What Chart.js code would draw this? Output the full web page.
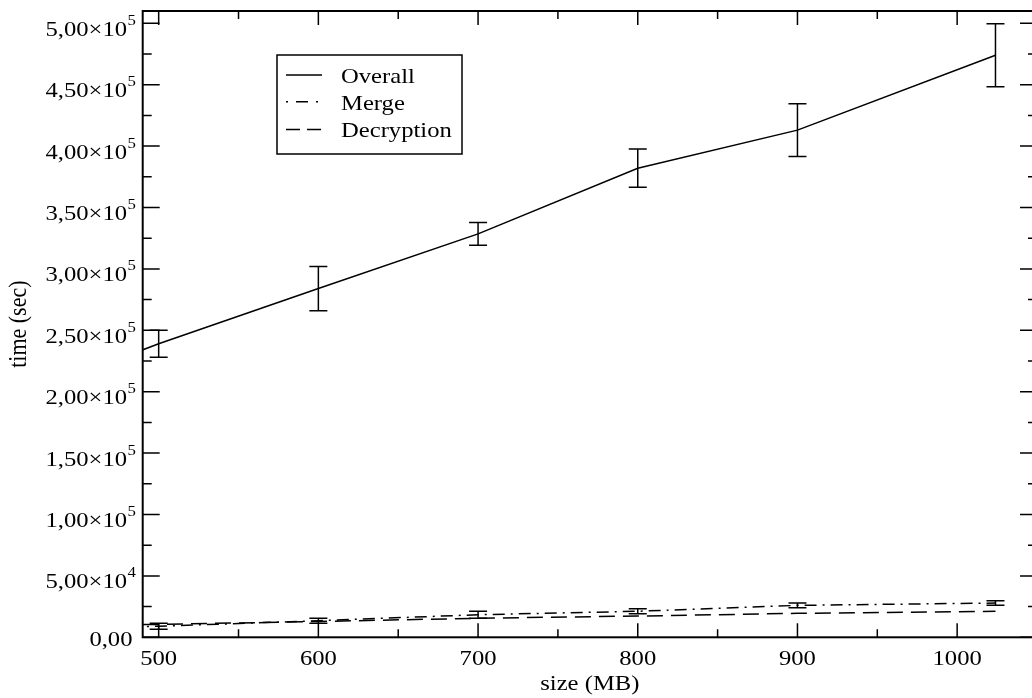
<!DOCTYPE html>
<html>
<head>
<meta charset="utf-8">
<script src="https://cdn.jsdelivr.net/npm/chart.js@4.4.1/dist/chart.umd.min.js"></script>
<style>
  html, body { margin: 0; padding: 0; background: #fff; overflow: hidden; }
  #wrap { width: 1032px; height: 698px; overflow: hidden; }
</style>
</head>
<body>
<div id="wrap"><canvas id="timeChart" width="1045" height="698" style="width:1045px;height:698px"></canvas></div>
<script>
// file sizes (MB) and measured times (sec)
const sizes = [400, 500, 600, 700, 800, 900, 1024];
const overall = [190000, 239000, 284000, 328500, 382000, 413000, 474000];
const overallErr = [10000, 11000, 18000, 9300, 15600, 21500, 25700];
const merge = [6000, 9000, 13500, 18400, 21200, 26000, 27900];
const mergeErr = [2000, 2500, 2000, 2800, 2000, 2000, 1800];
const decryption = [10000, 10500, 12900, 15500, 17300, 19500, 21200];

const xTicks = [500, 600, 700, 800, 900, 1000];
const xMinor = [550, 650, 750, 850, 950, 1050];
const yTicks = [0, 50000, 100000, 150000, 200000, 250000, 300000, 350000, 400000, 450000, 500000];
const yMinor = [25000, 75000, 125000, 175000, 225000, 275000, 325000, 375000, 425000, 475000];

const FONT = "\"Liberation Serif\", \"Times New Roman\", serif";
const SIZE = 22;
const SUP = 15;
const STRETCH = 1.12;

function points(ys) {
  return sizes.map(function (s, i) { return { x: s, y: ys[i] }; });
}

// text is drawn a little wide, like the rest of the figure
function wideText(ctx, text, x, y, size, align) {
  ctx.save();
  ctx.font = size + "px " + FONT;
  ctx.fillStyle = "#000";
  ctx.textBaseline = "alphabetic";
  ctx.translate(x, y);
  ctx.scale(STRETCH, 1);
  ctx.textAlign = align;
  ctx.fillText(text, 0, 0);
  ctx.restore();
}
function textWidth(ctx, text, size) {
  ctx.save();
  ctx.font = size + "px " + FONT;
  const w = ctx.measureText(text).width * STRETCH;
  ctx.restore();
  return w;
}

// 5,00x10^5 style labels
function splitLabel(v) {
  if (v === 0) return { main: "0,00", exp: "" };
  const e = Math.floor(Math.log10(v));
  const m = (v / Math.pow(10, e)).toFixed(2).replace(".", ",");
  return { main: m + "\u00d710", exp: String(e) };
}

const errorBars = {
  id: "errorBars",
  afterDatasetsDraw(chart) {
    const ctx = chart.ctx, xs = chart.scales.x, ys = chart.scales.y, a = chart.chartArea;
    ctx.save();
    ctx.beginPath();
    ctx.rect(a.left, a.top, a.right - a.left, a.bottom - a.top);
    ctx.clip();
    ctx.strokeStyle = "#000";
    ctx.lineWidth = 1.5;
    chart.data.datasets.forEach(function (ds) {
      if (!ds.errors) return;
      ds.data.forEach(function (p, i) {
        const px = xs.getPixelForValue(p.x);
        const top = ys.getPixelForValue(p.y + ds.errors[i]);
        const bot = ys.getPixelForValue(p.y - ds.errors[i]);
        ctx.beginPath();
        ctx.moveTo(px, top); ctx.lineTo(px, bot);
        ctx.moveTo(px - 9, top); ctx.lineTo(px + 9, top);
        ctx.moveTo(px - 9, bot); ctx.lineTo(px + 9, bot);
        ctx.stroke();
      });
    });
    ctx.restore();
  }
};

const frame = {
  id: "frame",
  afterDraw(chart) {
    const ctx = chart.ctx, xs = chart.scales.x, ys = chart.scales.y, a = chart.chartArea;
    ctx.save();
    ctx.strokeStyle = "#000";
    ctx.lineWidth = 2;
    ctx.strokeRect(a.left, a.top, a.right - a.left, a.bottom - a.top);
    ctx.lineWidth = 1.5;
    ctx.beginPath();
    function xt(vals, len) {
      vals.forEach(function (v) {
        const px = xs.getPixelForValue(v);
        if (px < a.left || px > a.right) return;
        ctx.moveTo(px, a.bottom); ctx.lineTo(px, a.bottom - len);
        ctx.moveTo(px, a.top); ctx.lineTo(px, a.top + len);
      });
    }
    function yt(vals, len) {
      vals.forEach(function (v) {
        const py = ys.getPixelForValue(v);
        ctx.moveTo(a.left, py); ctx.lineTo(a.left + len, py);
        ctx.moveTo(a.right, py); ctx.lineTo(a.right - len, py);
      });
    }
    xt(xTicks, 14); xt(xMinor, 8);
    yt(yTicks, 17); yt(yMinor, 9);
    ctx.stroke();
    ctx.restore();

    // tick labels
    xTicks.forEach(function (v) {
      wideText(ctx, String(v), xs.getPixelForValue(v), 664.5, SIZE, "center");
    });
    yTicks.forEach(function (v) {
      const py = ys.getPixelForValue(v);
      const lab = splitLabel(v);
      if (lab.exp) {
        const supW = textWidth(ctx, lab.exp, SUP);
        const right = 136;
        wideText(ctx, lab.exp, right - supW, py + 1.5, SUP, "left");
        wideText(ctx, lab.main, right - supW - 0.5, py + 12.5, SIZE, "right");
      } else {
        wideText(ctx, lab.main, 132.5, py + 9, SIZE, "right");
      }
    });

    // axis titles
    wideText(ctx, "size (MB)", (a.left + 1037) / 2, 690, SIZE, "center");
    ctx.save();
    ctx.font = SIZE + "px " + FONT;
    ctx.fillStyle = "#000";
    ctx.translate(26, (a.top + a.bottom) / 2);
    ctx.rotate(-Math.PI / 2);
    ctx.scale(1, STRETCH);
    ctx.textAlign = "center";
    ctx.fillText("time (sec)", 0, 0);
    ctx.restore();

    // legend box
    ctx.save();
    ctx.strokeStyle = "#000";
    ctx.lineWidth = 1.5;
    ctx.strokeRect(277, 55, 185, 99);
    const rows = [75, 101.7, 129.5];
    chart.data.datasets.forEach(function (ds, i) {
      ctx.save();
      ctx.lineWidth = 1.5;
      ctx.setLineDash(ds.legendDash || []);
      ctx.beginPath();
      ctx.moveTo(286, rows[i]); ctx.lineTo(322, rows[i]);
      ctx.stroke();
      ctx.restore();
      wideText(ctx, ds.label, 341, rows[i] + 7.8, SIZE, "left");
    });
    ctx.restore();
  }
};

new Chart("timeChart", {
  type: "line",
  data: {
    datasets: [
      {
        label: "Overall",
        data: points(overall),
        errors: overallErr,
        borderColor: "#000",
        borderWidth: 1.5,
        pointRadius: 0,
        tension: 0,
      },
      {
        label: "Merge",
        data: points(merge),
        errors: mergeErr,
        borderColor: "#000",
        borderWidth: 1.5,
        borderDash: [12, 6, 2, 6],
        legendDash: [2, 8, 12, 8],
        pointRadius: 0,
        tension: 0,
      },
      {
        label: "Decryption",
        data: points(decryption),
        borderColor: "#000",
        borderWidth: 1.5,
        borderDash: [16, 8],
        legendDash: [14, 7],
        pointRadius: 0,
        tension: 0,
      },
    ],
  },
  options: {
    responsive: false,
    animation: false,
    layout: { padding: { left: 142.7, top: 11, right: 8, bottom: 60.7 } },
    plugins: { legend: { display: false }, tooltip: { enabled: false } },
    scales: {
      x: { type: "linear", min: 490, max: 1050, display: false },
      y: { type: "linear", min: 0, max: 510000, display: false },
    },
  },
  plugins: [errorBars, frame],
});
</script>
</body>
</html>
